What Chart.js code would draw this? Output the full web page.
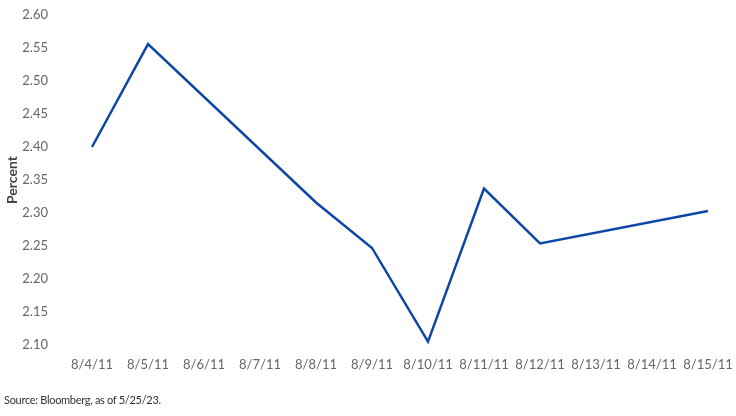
<!DOCTYPE html>
<html>
<head>
<meta charset="utf-8">
<script src="https://cdn.jsdelivr.net/npm/chart.js@4.4.0/dist/chart.umd.min.js"></script>
<style>
  html, body { margin: 0; padding: 0; background: #fff; }
  #wrap { position: relative; width: 736px; height: 416px; }
  #src { position: absolute; left: 4px; top: 393px; font-family: Lato, "Open Sans", sans-serif; font-size: 11px; letter-spacing: -0.3px; color: #333; }
</style>
</head>
<body>
<div id="wrap">
  <canvas id="c" width="736" height="416"></canvas>
  <div id="src">Source: Bloomberg, as of 5/25/23.</div>
</div>
<script>
const categories = ['8/4/11','8/5/11','8/6/11','8/7/11','8/8/11','8/9/11','8/10/11','8/11/11','8/12/11','8/13/11','8/14/11','8/15/11'];
const yieldValues = [2.40, 2.556, null, null, 2.316, 2.247, 2.105, 2.337, 2.254, null, null, 2.303];
const yTicks = [2.10, 2.15, 2.20, 2.25, 2.30, 2.35, 2.40, 2.45, 2.50, 2.55, 2.60];

new Chart(document.getElementById('c'), {
  type: 'line',
  data: {
    labels: categories,
    datasets: [{
      data: yieldValues,
      borderColor: '#0D47A8',
      borderWidth: 2.5,
      pointRadius: 0,
      spanGaps: true,
      tension: 0
    }]
  },
  options: {
    responsive: false,
    animation: false,
    layout: { padding: { top: 15, right: 0, bottom: 41, left: 0 } },
    plugins: { legend: { display: false }, tooltip: { enabled: false } },
    scales: {
      x: {
        offset: true,
        afterFit: (s) => { s.height = 30; s.paddingLeft = 0; s.paddingRight = 0; },
        grid: { display: false, drawTicks: false },
        border: { display: false },
        ticks: { padding: 12, color: '#666', font: { family: 'Lato', size: 13 }, maxRotation: 0, autoSkip: false }
      },
      y: {
        min: 2.10,
        max: 2.60,
        afterFit: (s) => { s.width = 64; s.paddingTop = 0; s.paddingBottom = 0; },
        afterBuildTicks: (s) => { s.ticks = yTicks.map(v => ({ value: v })); },
        grid: { display: false, drawTicks: false },
        border: { display: false },
        ticks: { padding: 16, color: '#666', font: { family: 'Lato', size: 13 }, callback: (v) => Number(v).toFixed(2) },
        title: { display: true, text: 'Percent', color: '#444', font: { family: 'Lato', size: 14, weight: 'bold' }, padding: { top: 4, bottom: 0 } }
      }
    }
  }
});
</script>
</body>
</html>
